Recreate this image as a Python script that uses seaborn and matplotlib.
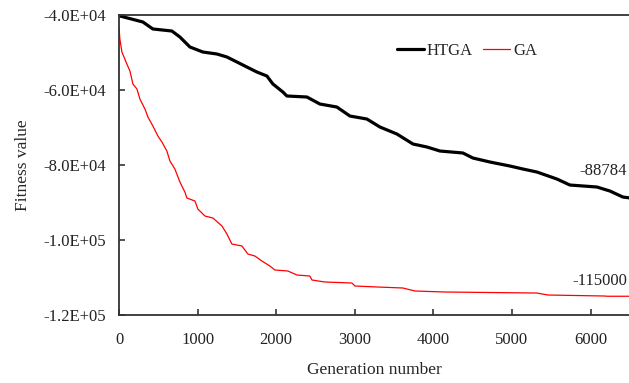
import numpy as np
import pandas as pd
import matplotlib
matplotlib.use("Agg")
import matplotlib.pyplot as plt
from matplotlib.ticker import FuncFormatter
import seaborn as sns

# HTGA convergence
htga_gen = [0, 304, 431, 673, 775, 902, 1067, 1246, 1373, 1500, 1627, 1754, 1882,
            1958, 2085, 2136, 2391, 2556, 2772, 2938, 3154, 3320, 3536, 3740, 3918,
            4083, 4376, 4503, 4719, 4973, 5139, 5317, 5572, 5737, 6081, 6246, 6411, 6500]
htga_fit = [-40200, -41870, -43730, -44270, -45870, -48530, -49870, -50400, -51200,
            -52530, -53870, -55200, -56270, -58400, -60530, -61600, -61870, -63740,
            -64540, -66940, -67740, -69870, -71740, -74400, -75200, -76270, -76800,
            -78140, -79200, -80270, -81070, -81870, -83740, -85340, -85870, -86940,
            -88540, -88784]

# GA convergence
ga_gen = [0, 11, 37, 100, 139, 177, 228, 266, 330, 368, 431, 495, 546, 609, 648, 711,
          775, 838, 864, 966, 1004, 1093, 1195, 1310, 1373, 1436, 1564, 1640, 1729,
          1818, 1920, 1984, 2149, 2264, 2429, 2455, 2620, 2964, 3002, 3294, 3612,
          3765, 4147, 5317, 5457, 6182, 6207, 6500]
ga_fit = [-43200, -46400, -49870, -53070, -54930, -58400, -59730, -62400, -65070,
          -67200, -69600, -72270, -73870, -76270, -78940, -81070, -84540, -87200,
          -88800, -89600, -91740, -93600, -94140, -96270, -98400, -101070, -101600,
          -103740, -104270, -105600, -106940, -108000, -108270, -109340, -109600,
          -110670, -111200, -111470, -112270, -112540, -112800, -113600, -113870,
          -114140, -114670, -114940, -115000, -115000]

x_ticks = [0, 1000, 2000, 3000, 4000, 5000, 6000]
y_ticks = [-120000, -100000, -80000, -60000, -40000]

df_htga = pd.DataFrame({"gen": htga_gen, "fit": htga_fit})
df_ga = pd.DataFrame({"gen": ga_gen, "fit": ga_fit})

sns.set_style("ticks")
plt.rcParams["font.family"] = ["Liberation Serif", "DejaVu Serif"]

fig = plt.figure(figsize=(6.29, 3.83), dpi=100)
ax = fig.add_axes([119 / 629, 1 - 315 / 383, 1 - 119 / 629, 300 / 383])

sns.lineplot(x="gen", y="fit", data=df_htga, ax=ax, color="black", linewidth=2.3,
             estimator=None, label="HTGA")
sns.lineplot(x="gen", y="fit", data=df_ga, ax=ax, color="red", linewidth=0.9,
             estimator=None, label="GA")

ax.set_xlim(0, 6489)
ax.set_ylim(-120000, -40000)
ax.set_xticks(x_ticks)
ax.set_yticks(y_ticks)
ax.yaxis.set_major_formatter(FuncFormatter(lambda v, p: f"{v:.1E}"))

ax.tick_params(direction="in", length=4, width=1.1, labelsize=12, colors="#222222")
ax.tick_params(axis="x", pad=12)
ax.tick_params(axis="y", pad=9)
for side in ["left", "bottom", "top"]:
    ax.spines[side].set_linewidth(1.3)
    ax.spines[side].set_color("#333333")
ax.spines["right"].set_visible(False)

ax.set_xlabel("Generation number", fontsize=12.5, labelpad=10)
ax.set_ylabel("Fitness value", fontsize=12.5, labelpad=9)

# final values, right-aligned just inside the canvas
ax.text(0.996, -81600, "-88784", fontsize=12, ha="right", va="center", color="#222222",
        transform=ax.get_yaxis_transform())
ax.text(0.996, -110940, "-115000", fontsize=12, ha="right", va="center", color="#222222",
        transform=ax.get_yaxis_transform())

ax.legend(loc="center left", bbox_to_anchor=(0.545, 0.88), ncol=2, frameon=False,
          fontsize=12, handlelength=1.6, handletextpad=0.2, columnspacing=0.6,
          borderpad=0, borderaxespad=0)

fig.savefig("out.png", dpi=100)
